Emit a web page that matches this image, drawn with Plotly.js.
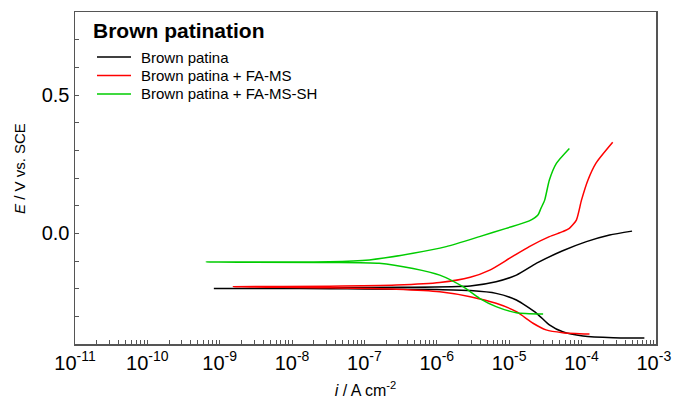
<!DOCTYPE html>
<html>
<head>
<meta charset="utf-8">
<script src="https://cdn.plot.ly/plotly-3.0.1.min.js"></script>
<style>html,body{margin:0;padding:0;background:#fff;}#chart{width:674px;height:407px;}</style>
</head>
<body>
<div id="chart"></div>
<script>
// Series names
const seriesNames = ["Brown patina", "Brown patina + FA-MS", "Brown patina + FA-MS-SH"];
const seriesColors = ["#000000", "#ff0000", "#00cc00"];

// x tick labels (decades)
const xTickVals = [1e-11, 1e-10, 1e-9, 1e-8, 1e-7, 1e-6, 1e-5, 1e-4, 1e-3];
const xTickLabels = ["10<sup>-11</sup>", "10<sup>-10</sup>", "10<sup>-9</sup>", "10<sup>-8</sup>", "10<sup>-7</sup>",
                     "10<sup>-6</sup>", "10<sup>-5</sup>", "10<sup>-4</sup>", "10<sup>-3</sup>"];

// Brown patina: cathodic branch (high i -> Ecorr) then anodic branch
const brownI = [7.4e-4, 2.75e-4, 1.05e-4, 5.5e-5, 3.6e-5, 2.4e-5, 1.26e-5, 6.6e-6, 2.9e-6, 1.0e-6, 1.0e-7, 3.3e-8, 5e-9, 8.3e-10,
                5e-9, 3.3e-8, 3.3e-7, 2.9e-6, 6.6e-6, 1.26e-5, 2.4e-5, 5.5e-5, 1.17e-4, 2.45e-4, 5.0e-4];
const brownE = [-0.378, -0.377, -0.371, -0.356, -0.331, -0.289, -0.241, -0.217, -0.207, -0.203, -0.201, -0.200, -0.199, -0.199,
                -0.199, -0.197, -0.195, -0.190, -0.175, -0.151, -0.108, -0.063, -0.030, -0.006, 0.008];

// Brown patina + FA-MS
const famsI = [1.29e-4, 5.5e-5, 3.24e-5, 2.14e-5, 1.26e-5, 6.6e-6, 2.9e-6, 1.1e-6, 2.75e-7, 3.3e-8, 1.55e-9,
               3.3e-8, 2.75e-7, 1.1e-6, 2.9e-6, 5.4e-6, 1.02e-5, 1.9e-5, 3.6e-5, 5.5e-5, 6.8e-5, 8.5e-5, 1.0e-4, 1.23e-4, 1.58e-4, 2.7e-4];
const famsE = [-0.364, -0.359, -0.349, -0.325, -0.283, -0.253, -0.229, -0.211, -0.202, -0.197, -0.193,
               -0.191, -0.187, -0.178, -0.159, -0.133, -0.090, -0.048, -0.012, 0.006, 0.018, 0.048, 0.120, 0.193, 0.253, 0.329];

// Brown patina + FA-MS-SH
const famsshI = [2.95e-5, 1.26e-5, 6.6e-6, 3.9e-6, 2.3e-6, 1.1e-6, 4.7e-7, 1.6e-7, 3.3e-8, 6.5e-10,
                 3.3e-8, 1.17e-7, 4.7e-7, 1.35e-6, 3.9e-6, 9.1e-6, 1.9e-5, 2.5e-5, 2.75e-5, 3.1e-5, 3.6e-5, 4.5e-5, 6.8e-5];
const famsshE = [-0.292, -0.287, -0.265, -0.235, -0.193, -0.151, -0.127, -0.108, -0.105, -0.104,
                 -0.103, -0.096, -0.072, -0.048, -0.012, 0.018, 0.045, 0.066, 0.090, 0.120, 0.193, 0.253, 0.307];

const xs = [brownI, famsI, famsshI];
const ys = [brownE, famsE, famsshE];

// all tick positions: decades (labelled) plus 2..9 x each decade (unlabelled)
const allTickVals = [], allTickText = [];
xTickVals.forEach((d, k) => {
  allTickVals.push(d); allTickText.push(xTickLabels[k]);
  for (let m = 2; m <= 9; m++) { allTickVals.push(m * d); allTickText.push(""); }
});

const FONT = "Arial, 'Liberation Sans', sans-serif";
const traces = seriesNames.map((n, k) => ({
  x: xs[k], y: ys[k], name: n, type: "scatter", mode: "lines", showlegend: false,
  line: {color: seriesColors[k], width: 1.5, shape: "spline", smoothing: 0.6}
}));

// geometry of plot area in pixels (layout only)
const W = 674, H = 407, ML = 75, MR = 18, MT = 12, MB = 63;
const PW = W - ML - MR, PH = H - MT - MB;
const px = x => (x - ML) / PW;          // pixel -> paper x
const py = y => (H - MB - y) / PH;      // pixel -> paper y

// manual legend (line samples + labels)
const legendRows = [57, 75.5, 94];
const shapes = [];
const annotations = [{
  text: "<b>Brown patination</b>", xref: "paper", yref: "paper",
  x: px(91), y: py(30), xanchor: "left", yanchor: "middle", showarrow: false,
  font: {size: 21, family: FONT, color: "#000"}
}, {
  text: "<i>E</i> / V vs. SCE", xref: "paper", yref: "paper", textangle: -90,
  x: px(19), y: py(169), xanchor: "center", yanchor: "middle", showarrow: false,
  font: {size: 15, family: FONT, color: "#000"}
}];
seriesNames.forEach((n, k) => {
  shapes.push({type: "line", xref: "paper", yref: "paper", x0: px(97), x1: px(131),
               y0: py(legendRows[k]), y1: py(legendRows[k]), line: {color: seriesColors[k], width: 1.5}});
  annotations.push({text: n, xref: "paper", yref: "paper", x: px(139), y: py(legendRows[k]),
                    xanchor: "left", yanchor: "middle", showarrow: false,
                    font: {size: 15, family: FONT, color: "#000"}});
});

const layout = {
  width: W, height: H,
  margin: {l: ML, r: MR, t: MT, b: MB},
  paper_bgcolor: "#fff", plot_bgcolor: "#fff",
  font: {family: FONT, color: "#000"},
  showlegend: false,
  xaxis: {
    type: "log", range: [-11, -2.97], tickmode: "array", tickvals: allTickVals, ticktext: allTickText,
    ticklabeloverflow: "allow",
    ticks: "inside", ticklen: 4, tickwidth: 1, tickcolor: "#555",
    showline: true, linecolor: "#555", linewidth: 1.5, mirror: true,
    showgrid: false, zeroline: false,
    tickfont: {size: 20, family: FONT},
    title: {text: "<i>i</i> / A cm<sup>-2</sup>", font: {size: 16, family: FONT}, standoff: 12}
  },
  yaxis: {
    range: [-0.4, 0.8], dtick: 0.5, tick0: 0, tickformat: ".1f",
    ticks: "inside", ticklen: 4, tickwidth: 1, tickcolor: "#555",
    showline: true, linecolor: "#555", linewidth: 1.5, mirror: true,
    showgrid: false, zeroline: false,
    tickfont: {size: 20, family: FONT},
    minor: {ticks: "inside", ticklen: 4, tickcolor: "#555", dtick: 0.1, showgrid: false}
  },
  shapes: shapes,
  annotations: annotations
};

Plotly.newPlot("chart", traces, layout, {displayModeBar: false, staticPlot: true});
</script>
</body>
</html>
